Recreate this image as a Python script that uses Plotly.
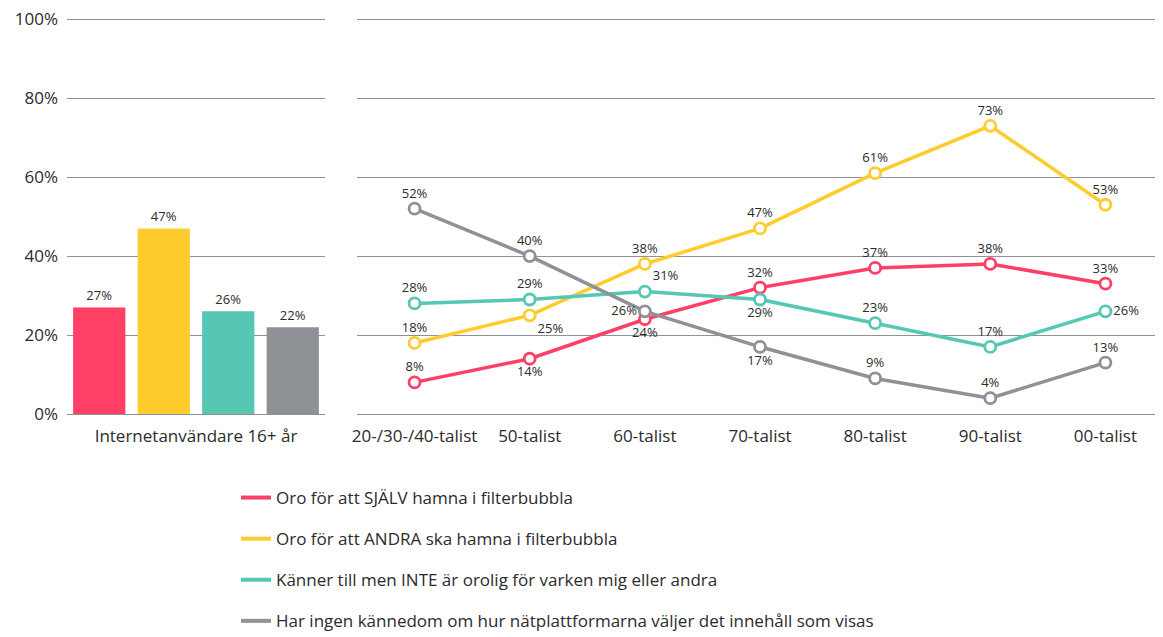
import plotly.graph_objects as go

series_names = [
    "Oro för att SJÄLV hamna i filterbubbla",
    "Oro för att ANDRA ska hamna i filterbubbla",
    "Känner till men INTE är orolig för varken mig eller andra",
    "Har ingen kännedom om hur nätplattformarna väljer det innehåll som visas",
]
colors = ["#FF3F66", "#FFCC2E", "#55C7B3", "#8E9196"]

bar_category = ["Internetanvändare 16+ år"]
bar_values = [27, 47, 26, 22]

generations = ["20-/30-/40-talist", "50-talist", "60-talist", "70-talist",
               "80-talist", "90-talist", "00-talist"]
self_worry = [8, 14, 24, 32, 37, 38, 33]
others_worry = [18, 25, 38, 47, 61, 73, 53]
not_worried = [28, 29, 31, 29, 23, 17, 26]
no_knowledge = [52, 40, 26, 17, 9, 4, 13]
line_values = [self_worry, others_worry, not_worried, no_knowledge]

y_ticks = [0, 20, 40, 60, 80, 100]
y_tick_text = [f"{v}%" for v in y_ticks]

label_pos = [
    ["top center", "bottom center", "bottom center", "top center", "top center", "top center", "top center"],
    ["top center", "bottom right", "top center", "top center", "top center", "top center", "top center"],
    ["top center", "top center", "top right", "bottom center", "top center", "top center", "middle right"],
    ["top center", "top center", "middle left", "bottom center", "top center", "top center", "top center"],
]

FONT = "Open Sans"
TXT = "#2b2b2b"

fig = go.Figure()

for name, val, col in zip(series_names, bar_values, colors):
    fig.add_trace(go.Bar(
        x=bar_category, y=[val], name=name, marker=dict(color=col, line=dict(width=0)),
        text=[f"{val}%"], textposition="outside", cliponaxis=False,
        textfont=dict(family=FONT, size=13, color=TXT),
        showlegend=False, xaxis="x", yaxis="y", hoverinfo="y+name",
    ))

for name, vals, col, pos in zip(series_names, line_values, colors, label_pos):
    fig.add_trace(go.Scatter(
        x=generations, y=vals, name=name, mode="lines+markers+text",
        line=dict(color=col, width=3.5),
        marker=dict(symbol="circle", size=11, color="white", line=dict(color=col, width=2.8)),
        text=[f"{v}%" for v in vals], textposition=pos, cliponaxis=False,
        textfont=dict(family=FONT, size=13, color=TXT),
        showlegend=False, xaxis="x2", yaxis="y2",
    ))

# legend-only entries (line symbols)
for i, (name, col) in enumerate(zip(series_names, colors)):
    fig.add_trace(go.Scatter(
        x=[None], y=[None], name=name, mode="lines",
        line=dict(color=col, width=4), legendgroup=f"g{i}",
        showlegend=True, xaxis="x2", yaxis="y2",
    ))

grid = "#8E9196"
W, H = 1155, 629
fig.update_layout(
    width=W, height=H,
    margin=dict(l=59, r=0, t=10, b=223, autoexpand=False),
    paper_bgcolor="white", plot_bgcolor="white",
    font=dict(family=FONT, size=17, color=TXT),
    barmode="group", bargap=0.0, bargroupgap=0.19,
    xaxis=dict(domain=[0, 0.2354], showgrid=False, showline=False, ticks="",
               automargin=False, ticklabelstandoff=10,
               tickfont=dict(family=FONT, size=17, color=TXT)),
    yaxis=dict(range=[0, 100.3], tickvals=y_ticks, ticktext=y_tick_text,
               showgrid=True, gridcolor=grid, gridwidth=1, zeroline=True,
               zerolinecolor=grid, zerolinewidth=1, showline=False, automargin=False,
               ticklabeloverflow="allow",
               tickfont=dict(family=FONT, size=17, color=TXT), ticklabelstandoff=8),
    xaxis2=dict(domain=[0.2646, 1], anchor="y2", range=[-0.5, 6.5],
                showgrid=False, showline=False, ticks="", automargin=False,
                ticklabelstandoff=10,
                tickfont=dict(family=FONT, size=17, color=TXT)),
    yaxis2=dict(range=[0, 100.3], anchor="x2", tickvals=y_ticks,
                showticklabels=False, showgrid=True, gridcolor=grid, gridwidth=1,
                zeroline=True, zerolinecolor=grid, zerolinewidth=1, showline=False,
                automargin=False),
    legend=dict(xref="container", yref="container", x=228 / W, y=1 - 472 / H,
                xanchor="left", yanchor="top", orientation="v",
                font=dict(family=FONT, size=17, color=TXT), tracegroupgap=16,
                bgcolor="rgba(0,0,0,0)"),
)

fig.write_html("out.html")
